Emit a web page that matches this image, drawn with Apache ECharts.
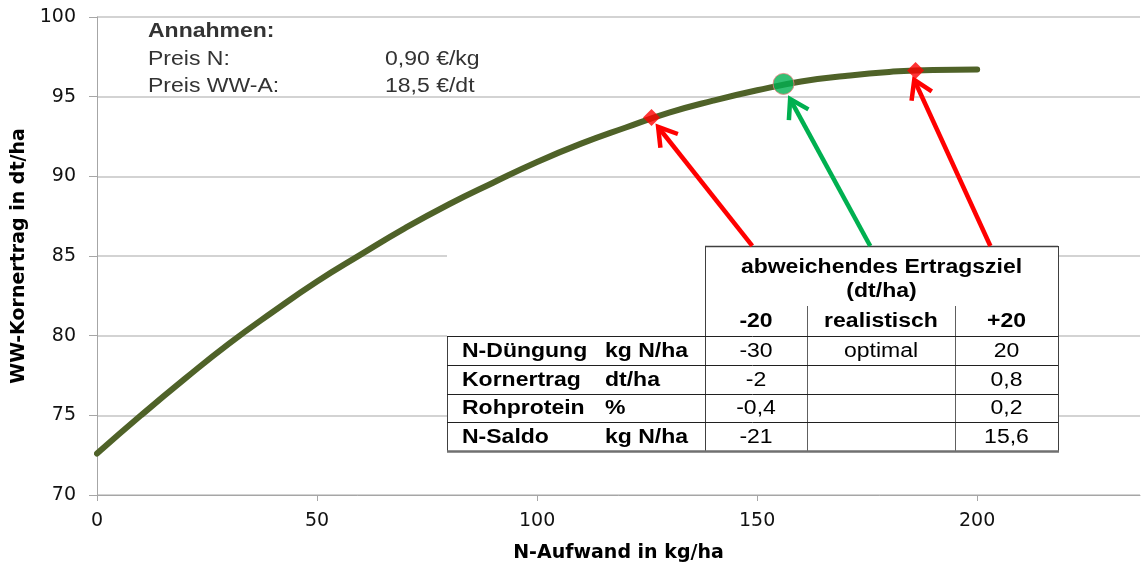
<!DOCTYPE html>
<html>
<head>
<meta charset="utf-8">
<script src="https://cdn.jsdelivr.net/npm/echarts@6/dist/echarts.min.js"></script>
<style>
html,body{margin:0;padding:0;background:#ffffff;}
#chart{width:1141px;height:569px;}
</style>
</head>
<body>
<div id="chart"></div>
<script>
// ---------- data ----------
const nAufwand   = [0, 10, 20, 30, 40, 50, 60, 70, 80, 90, 100, 110, 120, 130, 140, 150, 160, 170, 180, 190, 200];
const kornertrag = [72.6, 75.0, 77.3, 79.5, 81.5, 83.4, 85.1, 86.75, 88.25, 89.6, 90.9, 92.05, 93.05, 94.0, 94.75, 95.4, 95.95, 96.3, 96.55, 96.68, 96.7];
const lowTarget  = [126, 93.7];
const optimum    = [156, 95.8];
const highTarget = [186, 96.65];
const xTicks = [0, 50, 100, 150, 200];

// arrows: [from, to] in data coordinates
const arrowLow  = [[148.9, 85.63], [127.5, 93.1]];
const arrowOpt  = [[175.7, 85.63], [157.5, 94.85]];
const arrowHigh = [[203.0, 85.63], [185.7, 96.05]];

const assumptionsTitle = 'Annahmen:';
const assumptionLabels = ['Preis N:', 'Preis WW-A:'];
const assumptionValues = ['0,90 €/kg', '18,5 €/dt'];

const tableHeader  = ['abweichendes Ertragsziel', '(dt/ha)'];
const tableColumns = ['-20', 'realistisch', '+20'];
const rowLabels    = ['N-Düngung', 'Kornertrag', 'Rohprotein', 'N-Saldo'];
const rowUnits     = ['kg N/ha', 'dt/ha', '%', 'kg N/ha'];
const rowValues    = [
  ['-30', 'optimal', '20'],
  ['-2', '', '0,8'],
  ['-0,4', '', '0,2'],
  ['-21', '', '15,6']
];

// ---------- chart ----------
const chart = echarts.init(document.getElementById('chart'), null, {renderer: 'canvas'});
const AX = '"DejaVu Sans", sans-serif';
const TF = '"Liberation Sans", Arial, sans-serif';
const SX = 1.15;

chart.setOption({
  animation: false,
  backgroundColor: '#ffffff',
  grid: {left: 97, right: 1, top: 17, bottom: 74, containLabel: false},
  xAxis: {
    type: 'value', min: 0, max: 237, interval: 50,
    name: 'N-Aufwand in kg/ha', nameLocation: 'middle', nameGap: 49,
    nameTextStyle: {fontFamily: AX, fontSize: 19, fontWeight: 'bold', color: '#000'},
    axisLine: {show: true, lineStyle: {color: '#a6a6a6', width: 1}},
    axisTick: {show: true, length: 6, lineStyle: {color: '#a6a6a6'}, customValues: xTicks},
    axisLabel: {fontFamily: AX, fontSize: 19, color: '#111', margin: 17, customValues: xTicks},
    splitLine: {show: false}
  },
  yAxis: {
    type: 'value', min: 70, max: 100, interval: 5,
    name: 'WW-Kornertrag in dt/ha', nameLocation: 'middle', nameGap: 68, nameRotate: 90,
    nameTextStyle: {fontFamily: AX, fontSize: 19, fontWeight: 'bold', color: '#000'},
    axisLine: {show: true, lineStyle: {color: '#a6a6a6', width: 1}},
    axisTick: {show: true, length: 8, inside: false, lineStyle: {color: '#a6a6a6'}},
    axisLabel: {fontFamily: AX, fontSize: 19, color: '#111', margin: 21},
    splitLine: {show: true, lineStyle: {color: '#c4c4c4', width: 1.5}}
  },
  series: [
    {
      type: 'line', smooth: true, symbol: 'none', z: 3,
      data: nAufwand.map((x, i) => [x, kornertrag[i]]),
      lineStyle: {color: '#4f6228', width: 6, cap: 'round'}
    },
    {
      type: 'scatter', z: 5, symbol: 'diamond', symbolSize: 17,
      data: [lowTarget, highTarget],
      itemStyle: {color: '#ff0000'}
    },
    {
      type: 'scatter', z: 5, symbol: 'circle', symbolSize: 21,
      data: [optimum],
      itemStyle: {color: '#00b050', borderColor: '#f08080', borderWidth: 1}
    }
  ]
});

// ---------- overlays ----------
const g = [];
function txt(x, y, s, opt) {
  g.push({
    type: 'text', x: x, y: y, scaleX: SX, z: 20,
    style: Object.assign({
      text: s, fontFamily: TF, fontSize: 20, fill: '#000',
      textAlign: 'left', textVerticalAlign: 'middle'
    }, opt || {})
  });
}
function ln(x1, y1, x2, y2, color, w) {
  g.push({type: 'line', z: 19, shape: {x1: x1, y1: y1, x2: x2, y2: y2},
          style: {stroke: color || '#404040', lineWidth: w || 1}});
}

// assumptions
txt(148, 31, assumptionsTitle, {fontWeight: 'bold', fill: '#333'});
assumptionLabels.forEach((s, i) => {
  txt(148, 59 + i * 27, s, {fill: '#333'});
  txt(385, 59 + i * 27, assumptionValues[i], {fill: '#333'});
});

// table
const TL = 447, TH = 705, TR = 1058, TT = 246, RT = 336, RH = 28.75;
const colX = [705, 807, 955, 1058];
g.push({type: 'rect', z: 18, shape: {x: TL, y: TT, width: TR - TL, height: RT + 4 * RH - TT},
        style: {fill: '#ffffff'}});
ln(TH, TT + 0.5, TR, TT + 0.5, '#404040', 1.5);
ln(TH + 0.5, TT, TH + 0.5, RT + 4 * RH);
ln(TR + 0.5, TT, TR + 0.5, RT + 4 * RH);
ln(colX[1] + 0.5, 306, colX[1] + 0.5, RT + 4 * RH, '#606060');
ln(colX[2] + 0.5, 306, colX[2] + 0.5, RT + 4 * RH, '#606060');
ln(TL + 0.5, RT, TL + 0.5, RT + 4 * RH);
for (let r = 0; r < 4; r++) {
  const y = Math.round(RT + r * RH) + 0.5;
  ln(TL, y, TR, y, '#202020', 1);
}
ln(TL, RT + 4 * RH + 0.5, TR + 1, RT + 4 * RH + 0.5, '#707070', 2.5);

const cx = (c) => (colX[c] + colX[c + 1]) / 2;
txt((TH + TR) / 2, 267, tableHeader[0], {fontWeight: 'bold', textAlign: 'center'});
txt((TH + TR) / 2, 291, tableHeader[1], {fontWeight: 'bold', textAlign: 'center'});
tableColumns.forEach((s, c) => txt(cx(c), 321, s, {fontWeight: 'bold', textAlign: 'center'}));
rowLabels.forEach((s, r) => {
  const y = RT + (r + 0.5) * RH + 1;
  txt(462, y, s, {fontWeight: 'bold'});
  txt(605, y, rowUnits[r], {fontWeight: 'bold'});
  rowValues[r].forEach((v, c) => { if (v) txt(cx(c), y, v, {textAlign: 'center'}); });
});

// arrows
function arrow(pair, color) {
  const s = chart.convertToPixel({gridIndex: 0}, pair[0]);
  const t = chart.convertToPixel({gridIndex: 0}, pair[1]);
  const dx = t[0] - s[0], dy = t[1] - s[1];
  const L = Math.sqrt(dx * dx + dy * dy);
  const ux = dx / L, uy = dy / L;
  const len = 21, ang = 32 * Math.PI / 180;
  const rot = (a) => [-(ux * Math.cos(a) - uy * Math.sin(a)), -(ux * Math.sin(a) + uy * Math.cos(a))];
  const a1 = rot(ang), a2 = rot(-ang);
  g.push({type: 'line', z: 21, shape: {x1: s[0], y1: s[1], x2: t[0] - ux * 2, y2: t[1] - uy * 2},
          style: {stroke: color, lineWidth: 4.5}});
  g.push({type: 'polyline', z: 21,
          shape: {points: [[t[0] + a1[0] * len, t[1] + a1[1] * len], [t[0], t[1]], [t[0] + a2[0] * len, t[1] + a2[1] * len]]},
          style: {stroke: color, lineWidth: 4.5, fill: null, lineJoin: 'miter'}});
}
arrow(arrowLow, '#ff0000');
arrow(arrowOpt, '#00b050');
arrow(arrowHigh, '#ff0000');

chart.setOption({graphic: g});
</script>
</body>
</html>
